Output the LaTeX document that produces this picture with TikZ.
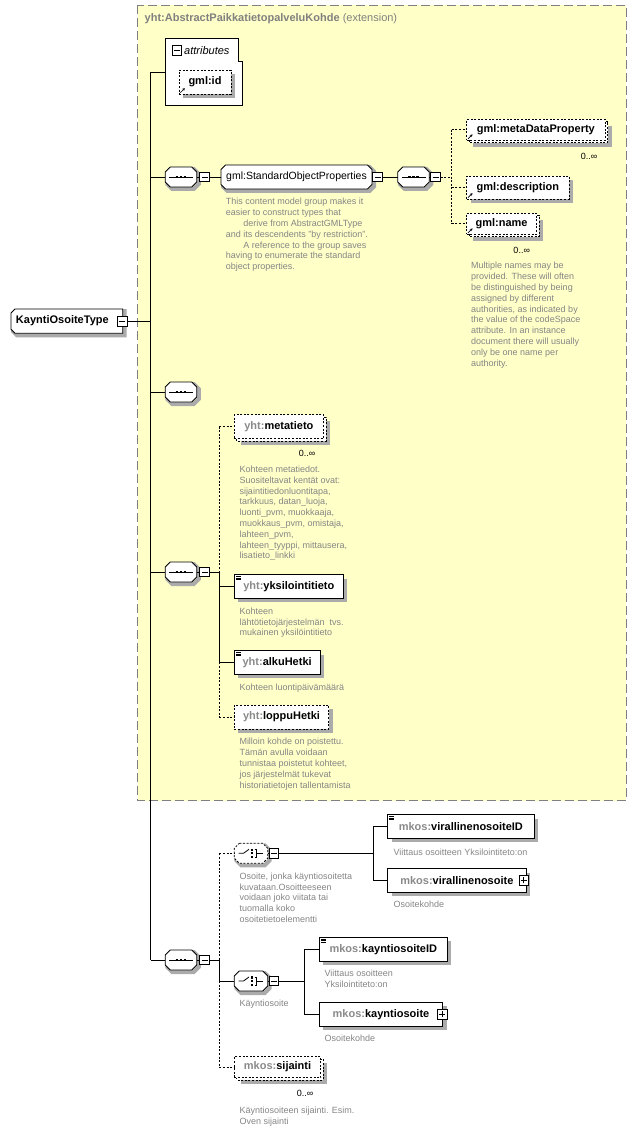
\documentclass[tikz,border=0pt]{standalone}
\usepackage{fontspec}
\setmainfont{Liberation Sans}
\usetikzlibrary{arrows.meta}
\definecolor{ybg}{HTML}{FFFFC8}
\definecolor{bord}{HTML}{808080}
\definecolor{dtxt}{HTML}{858585}
\definecolor{pfx}{HTML}{8A8A8A}
\definecolor{shdc}{HTML}{ABABAB}
\newcommand\pf[1]{\textcolor{pfx}{#1}}
\tikzset{
  ln/.style={line width=0.8pt},
  opt/.style={dash pattern=on 2pt off 1.6pt},
  shdw/.style={draw=shdc, line width=4pt, solid, line join=miter, line cap=butt},
  txt/.style={inner sep=0pt, font=\fontsize{11}{13}\selectfont\bfseries},
  elemb/.style={txt, draw, fill=white, line width=0.8pt},
  simp/.style={path picture={\foreach \k in {1.6,3.3,5}{\draw[solid,line width=0.6pt] ([xshift=1.5pt,yshift=-\k pt]path picture bounding box.north west) -- ++(5pt,0pt);}}},
  refa/.style={path picture={\draw[solid,line width=0.7pt,-{Stealth[length=2.6pt,width=2.8pt]}] ([xshift=1.3pt,yshift=1.3pt]path picture bounding box.south west) -- ++(4.5pt,4.5pt);}},
  mbox/.style={draw, solid, fill=white, line width=0.8pt, minimum size=9.5pt, inner sep=0pt,
    path picture={\draw[line width=0.8pt] ([xshift=-3pt]path picture bounding box.center) -- ([xshift=3pt]path picture bounding box.center);}},
  pbox/.style={draw, solid, fill=white, line width=0.8pt, minimum size=9.5pt, inner sep=0pt,
    path picture={\draw[line width=0.8pt] ([xshift=-3pt]path picture bounding box.center) -- ([xshift=3pt]path picture bounding box.center);
      \draw[line width=0.8pt] ([yshift=-3pt]path picture bounding box.center) -- ([yshift=3pt]path picture bounding box.center);}},
  desc/.style={anchor=north west, inner sep=0pt, align=left, font=\fontsize{9}{10.8}\selectfont, text=dtxt},
  mult/.style={inner sep=0pt, font=\fontsize{9}{11}\selectfont}
}
% node box from left, top, right, bottom
\newcommand\nodebox[7]{\node[#1, minimum width={((#5)-(#3))*1pt}, minimum height={((#6)-(#4))*1pt}] (#2) at ({((#3)+(#5))/2},{((#4)+(#6))/2}) {#7};}
% shadow strip right and below a rectangle l t r b
\newcommand\shadowrect[4]{\draw[shdw] ({(#3)+2},{(#2)+4}) -- ({(#3)+2},{(#4)+2}) -- ({(#1)+4},{(#4)+2});}
\newcommand\elbox[7]{\shadowrect{#3}{#4}{#5}{#6}\nodebox{elemb,#1}{#2}{#3}{#4}{#5}{#6}{#7}}
\newcommand\mulbox[7]{\shadowrect{(#3)+2.5}{(#4)+2.5}{(#5)+2.5}{(#6)+2.5}\path[draw, fill=white, ln, opt] ({(#3)+2.5},{(#4)+2.5}) rectangle ({(#5)+2.5},{(#6)+2.5}); \nodebox{elemb,opt,#1}{#2}{#3}{#4}{#5}{#6}{#7}}
% chamfered outline: opts, l, t, r, b, chamfer left, chamfer right
\newcommand\octpath[7]{%
  \draw[shdw] ({(#2)+(#6)+2},{(#3)+2}) -- ({(#4)-(#7)+2},{(#3)+2}) -- ({(#4)+2},{(#3)+(#7)+2}) -- ({(#4)+2},{(#5)-(#7)+2}) -- ({(#4)-(#7)+2},{(#5)+2}) -- ({(#2)+(#6)+2},{(#5)+2}) -- ({(#2)+2},{(#5)-(#6)+2}) -- ({(#2)+2},{(#3)+(#6)+2}) -- cycle;
  \path[draw, fill=white, ln, #1] ({(#2)+(#6)},{#3}) -- ({(#4)-(#7)},{#3}) -- ({#4},{(#3)+(#7)}) -- ({#4},{(#5)-(#7)}) -- ({(#4)-(#7)},{#5}) -- ({(#2)+(#6)},{#5}) -- ({#2},{(#5)-(#6)}) -- ({#2},{(#3)+(#6)}) -- cycle;}
\newcommand\seqsym[1]{\draw[ln] ([xshift=-12pt]#1.center) -- ([xshift=12pt]#1.center);
  \foreach \d in {-3.9,0,3.9}{\draw[line width=2.4pt] ([xshift=\d pt]#1.center) ++(-1.2pt,0pt) -- ++(2.4pt,0pt);}}
\newcommand\chsym[1]{\draw[ln] ([xshift=-12.5pt]#1.center) -- ([xshift=-7.5pt]#1.center) -- ([xshift=-2pt,yshift=4pt]#1.center);
  \foreach \d in {-3.6,0,3.6}{\draw[line width=2.2pt] ([xshift=1pt,yshift=\d pt]#1.center) ++(-1.1pt,0pt) -- ++(2.2pt,0pt);}
  \draw[ln] ([xshift=3.5pt,yshift=4pt]#1.center) -- ([xshift=5.5pt,yshift=4pt]#1.center) -- ([xshift=5.5pt,yshift=-4pt]#1.center) -- ([xshift=3.5pt,yshift=-4pt]#1.center);
  \draw[ln] ([xshift=5.5pt]#1.center) -- ([xshift=12pt]#1.center);}
% sequence node: name, cx, cy
\newcommand\seqat[3]{\octpath{}{(#2)-15.75}{(#3)-10}{(#2)+15.75}{(#3)+10}{5}{5}%
  \nodebox{inner sep=0pt}{#1}{(#2)-15.75}{(#3)-10}{(#2)+15.75}{(#3)+10}{}\seqsym{#1}}
% choice node: opts, name, cx, cy
\newcommand\choiceat[4]{\octpath{#1}{(#3)-16.7}{(#4)-10}{(#3)+16.7}{(#4)+10}{5}{5}%
  \nodebox{inner sep=0pt}{#2}{(#3)-16.7}{(#4)-10}{(#3)+16.7}{(#4)+10}{}\chsym{#2}}
\begin{document}
\begin{tikzpicture}[x=1pt,y=-1pt]
\useasboundingbox (0,0) rectangle (636,1131);
% extension area
\draw[draw=bord, fill=ybg, line width=1pt, dash pattern=on 9pt off 4pt] (137.5,5.5) rectangle (626,800.5);
\node[anchor=west, text=bord, font=\fontsize{11}{13}\selectfont, inner sep=0pt] (extT) at (144.5,18.5) {\textbf{yht:AbstractPaikkatietopalveluKohde} (extension)};
% attributes
\draw[ln, fill=white] (165,38) -- (238.7,38) -- (238.7,61.3) -- (242.7,61.3) -- (242.7,105.3) -- (165,105.3) -- cycle;
\node[mbox] (mAttr) at (177,50.5) {};
\node[anchor=west, inner sep=0pt, font=\fontsize{11}{13}\selectfont\itshape] (attrT) at (184,50.5) {attributes};
\elbox{opt,refa}{gid}{179}{70}{231}{94}{gml:id}
\coordinate (attrL) at (165,72);
% root
\octpath{}{11}{309}{122.7}{333.3}{4}{0}
\nodebox{txt}{kot}{11}{309}{122.7}{333.3}{\hspace*{-9pt}KayntiOsoiteType}
\node[mbox] (mKot) at (122.3,321.5) {};
\coordinate (vA) at (150.7,72);
\coordinate (vAb) at (150.7,960);
\draw[ln] (vA) -- (vAb);
\draw[ln] (vA) -- (attrL);
\draw[ln] (mKot.east) -- (mKot.east -| vA);
% gml group
\seqat{seqG}{181}{177}
\node[mbox] (mSeqG) at (204.5,177) {};
\octpath{}{221}{165}{372}{189}{4.5}{4.5}
\nodebox{inner sep=0pt,font=\fontsize{10.5}{12}\selectfont}{gsop}{221}{165}{372}{189}{gml:StandardObjectProperties}
\node[mbox] (mGsop) at (377.5,177) {};
\seqat{seqG2}{413.5}{177}
\node[mbox] (mSeqG2) at (435.5,177) {};
\draw[ln] (vA |- seqG.west) -- (seqG.west);
\draw[ln] (seqG.east) -- (mSeqG.west);
\draw[ln] (mSeqG.east) -- (gsop.west);
\draw[ln] (mGsop.east) -- (seqG2.west);
\draw[ln] (seqG2.east) -- (mSeqG2.west);
\mulbox{refa}{mdp}{466.7}{119.3}{605}{140.2}{gml:metaDataProperty}
\elbox{opt,refa}{gdesc}{466.7}{176}{569}{199}{gml:description}
\mulbox{refa}{gname}{466.7}{213.3}{536.5}{234.2}{gml:name}
\node[mult] (mMdp) at (589,156.7) {0..∞};
\node[mult] (mName) at (521.7,250) {0..∞};
\coordinate (vR) at (451.7,177);
\draw[ln,opt] (mSeqG2.east) -- (vR);
\draw[ln,opt] (vR |- mdp.west) -- (vR |- gname.west);
\draw[ln,opt] (vR |- mdp.west) -- (mdp.west);
\draw[ln,opt] (vR |- gdesc.west) -- (gdesc.west);
\draw[ln,opt] (vR |- gname.west) -- (gname.west);
\node[desc] (dGsop) at (225.7,198.2) {This content model group makes it\\easier to construct types that\\\hspace*{17.5pt}derive from AbstractGMLType\\and its descendents "by restriction".\\\hspace*{17.5pt}A reference to the group saves\\having to enumerate the standard\\object properties.};
\node[desc] (dName) at (471,262.2) {Multiple names may be\\provided.  These will often\\be distinguished by being\\assigned by different\\authorities, as indicated by\\the value of the codeSpace\\attribute.  In an instance\\document there will usually\\only be one name per\\authority.};
% empty sequence
\seqat{seqE}{181}{392}
\draw[ln] (vA |- seqE.west) -- (seqE.west);
% metatieto group
\mulbox{}{meta}{234.3}{414.7}{323.5}{438.5}{\pf{yht:}metatieto}
\node[mult] (mMeta) at (307,453) {0..∞};
\seqat{seqM}{181}{572}
\node[mbox] (mSeqM) at (204.5,572) {};
\coordinate (vM) at (219.3,572);
\elbox{simp}{yks}{234.3}{574.7}{343.3}{598}{\pf{yht:}yksilointitieto}
\elbox{simp}{alku}{234.3}{650.7}{320}{674}{\pf{yht:}alkuHetki}
\elbox{opt}{lop}{234.3}{705}{328.7}{729}{\pf{yht:}loppuHetki}
\draw[ln] (vA |- seqM.west) -- (seqM.west);
\draw[ln] (seqM.east) -- (mSeqM.west);
\draw[ln] (mSeqM.east) -- (vM);
\draw[ln,opt] (vM |- meta.west) -- (vM);
\draw[ln] (vM) -- (vM |- alku.west);
\draw[ln,opt] (vM |- alku.west) -- (vM |- lop.west);
\draw[ln,opt] (vM |- meta.west) -- (meta.west);
\draw[ln] (vM |- yks.west) -- (yks.west);
\draw[ln] (vM |- alku.west) -- (alku.west);
\draw[ln,opt] (vM |- lop.west) -- (lop.west);
\node[desc] (dMeta) at (239.3,465.8) {Kohteen metatiedot.\\Suositeltavat kentät ovat:\\sijaintitiedonluontitapa,\\tarkkuus, datan\_luoja,\\luonti\_pvm, muokkaaja,\\muokkaus\_pvm, omistaja,\\lahteen\_pvm,\\lahteen\_tyyppi, mittausera,\\lisatieto\_linkki};
\node[desc] (dYks) at (239.3,607.5) {Kohteen\\lähtötietojärjestelmän~ tvs.\\mukainen yksilöintitieto};
\node[desc] (dAlku) at (239.3,683.8) {Kohteen luontipäivämäärä};
\node[desc] (dLop) at (239.3,738.2) {Milloin kohde on poistettu.\\Tämän avulla voidaan\\tunnistaa poistetut kohteet,\\jos järjestelmät tukevat\\historiatietojen tallentamista};
% bottom group
\seqat{seqB}{181}{960}
\node[mbox] (mSeqB) at (204.5,960) {};
\coordinate (vBt) at (219.3,960);
\choiceat{opt}{ch1}{251}{853.3}
\node[mbox] (mCh1) at (274,853.3) {};
\choiceat{}{ch2}{251}{981}
\node[mbox] (mCh2) at (274,981) {};
\mulbox{}{sij}{234.3}{1056.7}{320.8}{1077.5}{\pf{mkos:}sijainti}
\node[mult] (mSij) at (305,1093.3) {0..∞};
\draw[ln] (vA |- seqB.west) -- (seqB.west);
\draw[ln] (seqB.east) -- (mSeqB.west);
\draw[ln] (mSeqB.east) -- (vBt);
\draw[ln,opt] (vBt |- ch1.west) -- (vBt);
\draw[ln] (vBt) -- (vBt |- ch2.west);
\draw[ln,opt] (vBt |- ch2.west) -- (vBt |- sij.west);
\draw[ln,opt] (vBt |- ch1.west) -- (ch1.west);
\draw[ln] (vBt |- ch2.west) -- (ch2.west);
\draw[ln,opt] (vBt |- sij.west) -- (sij.west);
\draw[ln] (ch1.east) -- (mCh1.west);
\draw[ln] (ch2.east) -- (mCh2.west);
% choice 1
\coordinate (vC1) at (373.3,853.3);
\elbox{simp}{virid}{387.7}{814.7}{534}{838}{\pf{mkos:}virallinenosoiteID}
\elbox{}{vir}{387.7}{868.7}{526}{892}{\pf{mkos:}virallinenosoite}
\node[pbox] (pVir) at (523.7,880.3) {};
\draw[ln] (mCh1.east) -- (vC1);
\draw[ln] (vC1 |- virid.west) -- (vC1 |- vir.west);
\draw[ln] (vC1 |- virid.west) -- (virid.west);
\draw[ln] (vC1 |- vir.west) -- (vir.west);
\node[desc] (dVirId) at (393.3,848.8) {Viittaus osoitteen Yksilointiteto:on};
\node[desc] (dVir) at (393.3,900.8) {Osoitekohde};
\node[desc] (dCh1) at (239.3,872.5) {Osoite, jonka käyntiosoitetta\\kuvataan.Osoitteeseen\\voidaan joko viitata tai\\tuomalla koko\\osoitetietoelementti};
% choice 2
\coordinate (vC2) at (304.3,981);
\elbox{simp}{kayid}{319.3}{937.3}{447.3}{961.3}{\pf{mkos:}kayntiosoiteID}
\elbox{}{kay}{319.3}{1002.3}{442.7}{1026}{\pf{mkos:}kayntiosoite}
\node[pbox] (pKay) at (442.3,1014.2) {};
\draw[ln] (mCh2.east) -- (vC2);
\draw[ln] (vC2 |- kayid.west) -- (vC2 |- kay.west);
\draw[ln] (vC2 |- kayid.west) -- (kayid.west);
\draw[ln] (vC2 |- kay.west) -- (kay.west);
\node[desc] (dKayId) at (324.3,969.8) {Viittaus osoitteen\\Yksilointiteto:on};
\node[desc] (dKay) at (324.3,1034.8) {Osoitekohde};
\node[desc] (dCh2) at (239.3,999.8) {Käyntiosoite};
\node[desc] (dSij) at (239.3,1106.5) {Käyntiosoiteen sijainti. Esim.\\Oven sijainti};
\end{tikzpicture}
\end{document}
